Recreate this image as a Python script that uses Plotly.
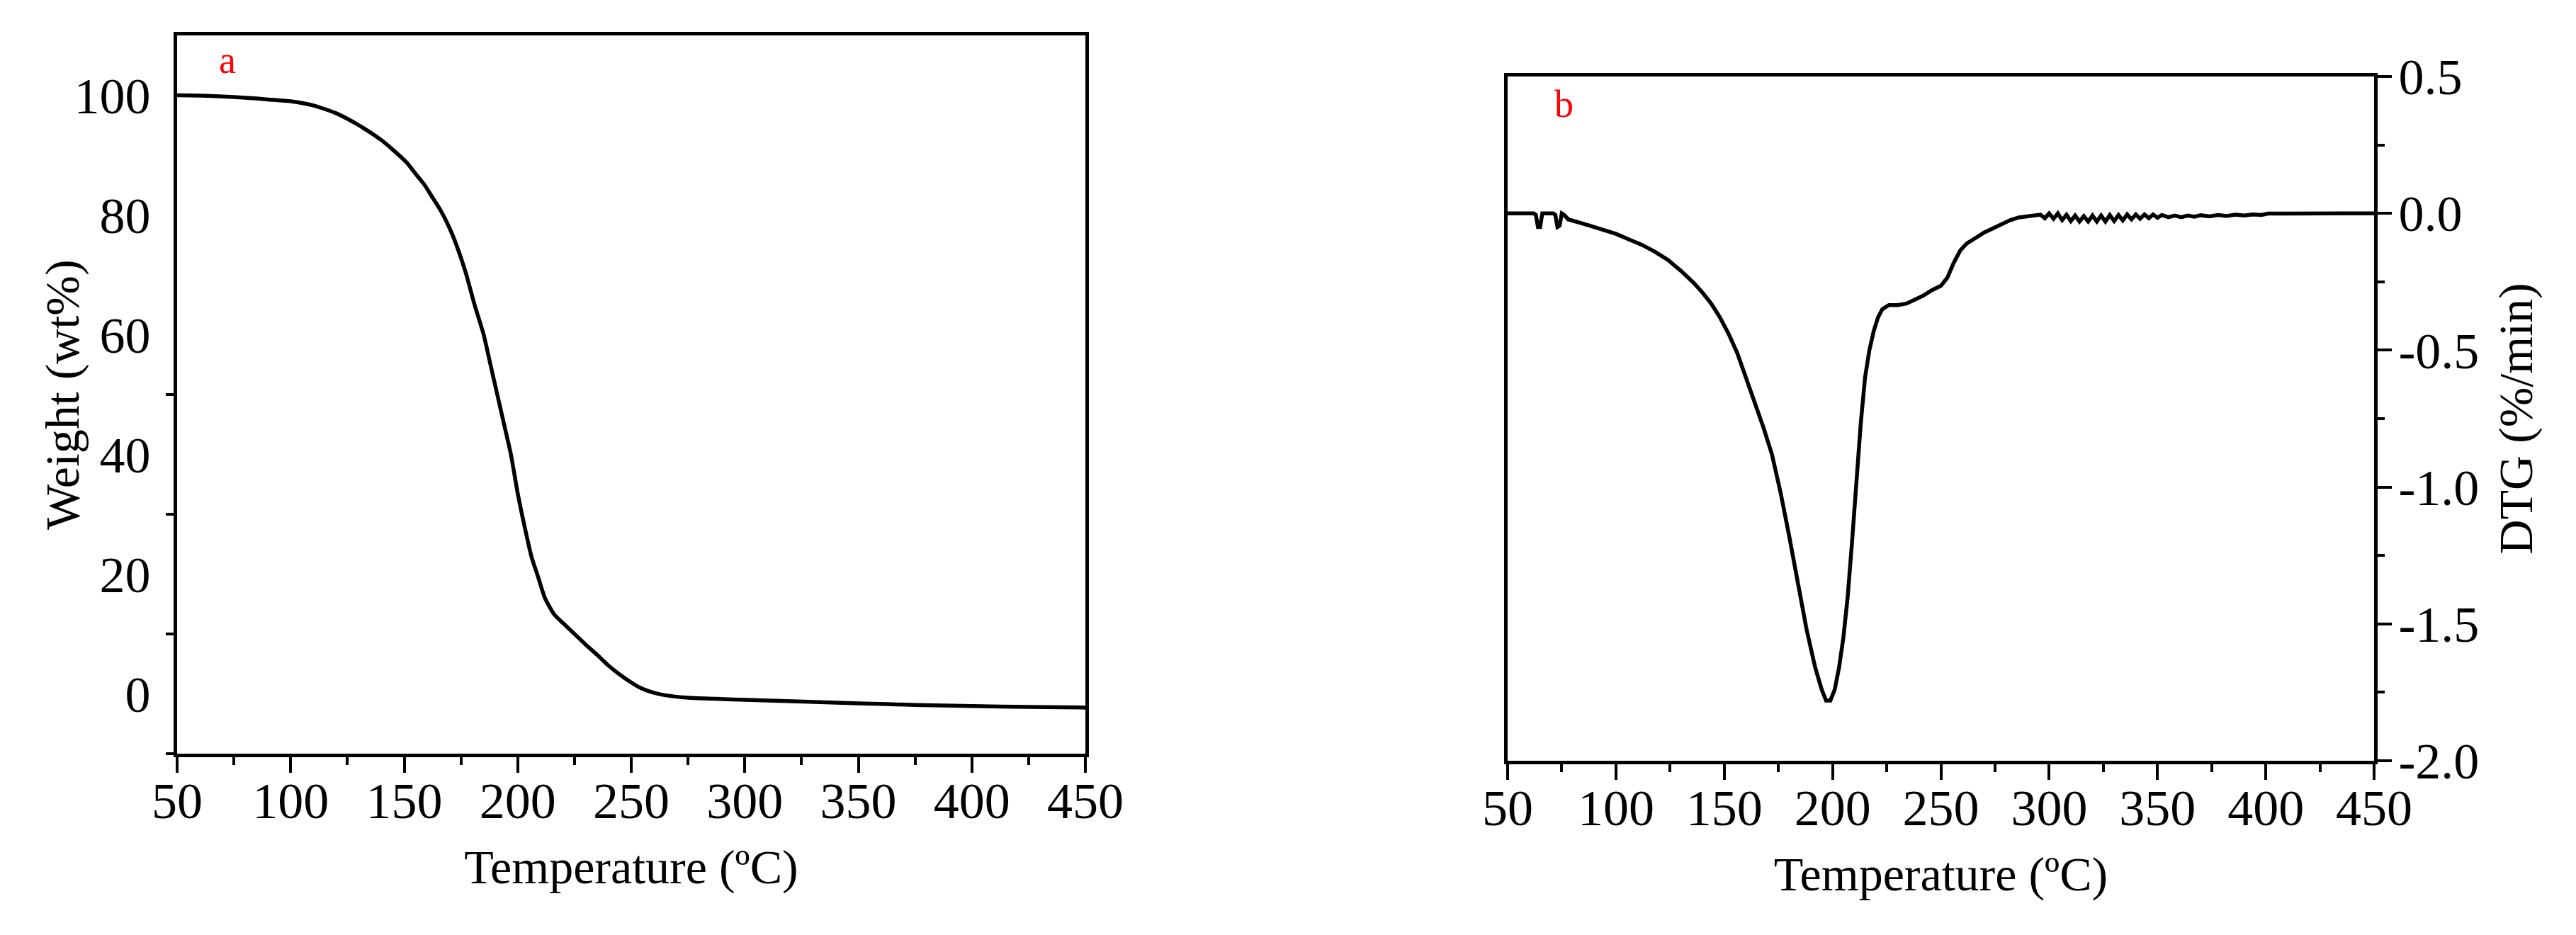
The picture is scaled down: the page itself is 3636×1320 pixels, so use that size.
"""TGA and DTG curves, two panels side by side."""

import plotly.graph_objects as go

# ---- data ----
tga_temp = [
    50, 60, 70, 80, 90, 100, 110, 120, 130, 140, 145, 151, 155, 159, 162, 166,
    170, 173, 177, 181, 185, 188, 191, 194, 197, 200, 203, 206, 209, 212, 216,
    220, 225, 230, 235, 240, 245, 250, 254, 258, 263, 268, 275, 284, 300, 326,
    350, 375, 400, 425, 450,
]
tga_weight = [
    100.0, 99.95, 99.8, 99.6, 99.3, 99.0, 98.3, 97.0, 95.0, 92.5, 90.9, 88.8,
    86.9, 85.0, 83.2, 80.8, 77.8, 75.0, 70.5, 65.0, 60.0, 55.0, 50.0, 45.0,
    40.0, 33.5, 28.0, 23.0, 19.5, 16.0, 13.3, 11.8, 10.0, 8.2, 6.5, 4.7, 3.2,
    1.9, 1.0, 0.4, -0.1, -0.4, -0.65, -0.8, -1.0, -1.3, -1.6, -1.85, -2.05,
    -2.2, -2.3,
]

dtg_temp = [
    50, 62, 63, 64, 65, 66, 71, 72, 73, 74, 75, 76, 78, 82, 88, 94, 100, 106,
    112, 118, 124, 130, 136, 140, 144, 148, 152, 156, 160, 164, 168, 172, 176,
    180, 184, 188, 192, 195, 197, 199, 201, 203, 205, 207, 209, 211, 213, 215,
    217, 219, 221, 223, 226, 230, 234, 238, 242, 246, 250, 253, 256, 259, 262,
    266, 270, 274, 278, 282, 286, 290, 294,
    296, 298, 300, 302, 304, 306, 308, 310, 312, 314, 316, 318, 320, 322, 324,
    326, 328, 330, 332, 334, 336, 338, 340, 342, 344, 346, 348, 350, 352, 355,
    358, 361, 364, 367, 370, 374, 378, 382, 386, 390, 394, 398, 401, 410, 420,
    430, 450,
]
dtg_rate = [
    0.0, 0.0, -0.005, -0.05, -0.05, 0.0, 0.0, -0.005, -0.05, -0.045, 0.0,
    -0.005, -0.022, -0.03, -0.045, -0.06, -0.075, -0.095, -0.115, -0.14, -0.17,
    -0.21, -0.255, -0.29, -0.33, -0.38, -0.44, -0.51, -0.6, -0.68, -0.78, -0.88,
    -1.02, -1.18, -1.35, -1.52, -1.66, -1.74, -1.78, -1.78, -1.74, -1.66, -1.55,
    -1.40, -1.20, -0.98, -0.77, -0.60, -0.50, -0.43, -0.38, -0.35, -0.335,
    -0.335, -0.33, -0.315, -0.30, -0.28, -0.265, -0.235, -0.18, -0.135, -0.11,
    -0.09, -0.07, -0.055, -0.038, -0.025, -0.015, -0.012, -0.008,
    -0.005, -0.018, 0.0, -0.02, 0.0, -0.025, -0.005, -0.028, -0.008, -0.03,
    -0.01, -0.03, -0.008, -0.03, -0.008, -0.03, -0.006, -0.028, -0.006, -0.026,
    -0.004, -0.022, -0.004, -0.02, -0.004, -0.018, -0.004, -0.016, -0.006,
    -0.014, -0.008, -0.014, -0.008, -0.012, -0.007, -0.011, -0.006, -0.01,
    -0.005, -0.008, -0.004, -0.006, -0.001, -0.001, 0.0, 0.0, 0.0,
]

temp_ticks = [50, 100, 150, 200, 250, 300, 350, 400, 450]
weight_ticks = [0, 20, 40, 60, 80, 100]
dtg_ticks = [-2.0, -1.5, -1.0, -0.5, 0.0, 0.5]
dtg_tick_text = ["-2.0", "-1.5", "-1.0", "-0.5", "0.0", "0.5"]

FONT = "Liberation Serif, Times New Roman, serif"
W, H = 3636, 1320
TICK_SIZE = 72
TITLE_SIZE = 68

# plot boxes in pixels (left, right, top, bottom)
LEFT_BOX = (242, 1524, 42, 1056)
RIGHT_BOX = (2120, 3343, 100, 1066)


def _domain_x(box):
    return [box[0] / W, box[1] / W]


def _domain_y(box):
    return [1 - box[3] / H, 1 - box[2] / H]


fig = go.Figure()
fig.add_trace(
    go.Scatter(
        x=tga_temp,
        y=tga_weight,
        mode="lines",
        line=dict(color="black", width=5.5, shape="spline", smoothing=0.6),
        xaxis="x",
        yaxis="y",
        showlegend=False,
    )
)
fig.add_trace(
    go.Scatter(
        x=dtg_temp,
        y=dtg_rate,
        mode="lines",
        line=dict(color="black", width=5.5),
        xaxis="x2",
        yaxis="y2",
        showlegend=False,
    )
)

axis_base = dict(
    showline=True,
    linecolor="black",
    linewidth=5,
    mirror=True,
    showgrid=False,
    zeroline=False,
    automargin=False,
    tickcolor="black",
    tickwidth=4,
    tickfont=dict(family=FONT, size=TICK_SIZE, color="black"),
)

temp_axis = dict(
    axis_base,
    range=[50, 450],
    tickmode="array",
    tickvals=temp_ticks,
    ticks="outside",
    ticklen=22,
    ticklabelstandoff=-22,
    minor=dict(ticks="outside", ticklen=11, tickwidth=4, tickcolor="black",
               tickmode="linear", tick0=75, dtick=50),
    title=dict(text="Temperature (ºC)", font=dict(family=FONT, size=TITLE_SIZE),
               standoff=30),
)

fig.update_layout(
    width=W,
    height=H,
    margin=dict(l=0, r=0, t=0, b=0),
    paper_bgcolor="white",
    plot_bgcolor="white",
    font=dict(family=FONT, color="black"),
    xaxis=dict(temp_axis, domain=_domain_x(LEFT_BOX), anchor="y"),
    yaxis=dict(
        axis_base,
        domain=_domain_y(LEFT_BOX),
        anchor="x",
        range=[-10, 110],
        tickmode="array",
        tickvals=weight_ticks,
        ticks="",
        ticklabelstandoff=18,
        minor=dict(ticks="outside", ticklen=11, tickwidth=4, tickcolor="black",
                   tickmode="array", tickvals=[-10, 10, 30, 50]),
    ),
    xaxis2=dict(temp_axis, domain=_domain_x(RIGHT_BOX), anchor="y2"),
    yaxis2=dict(
        axis_base,
        domain=_domain_y(RIGHT_BOX),
        anchor="x2",
        side="right",
        range=[-2, 0.5],
        tickmode="array",
        tickvals=dtg_ticks,
        ticktext=dtg_tick_text,
        ticks="outside",
        ticklen=20,
        ticklabelstandoff=-5,
        minor=dict(ticks="outside", ticklen=10, tickwidth=4, tickcolor="black",
                   tickmode="array", tickvals=[-1.75, -1.25, -0.75, -0.25, 0.25]),
        title=dict(text="DTG (%/min)", font=dict(family=FONT, size=TITLE_SIZE),
                   standoff=30),
    ),
    annotations=[
        # left y title sits closer to its tick labels than a standoff allows
        dict(x=80 / W, y=sum(_domain_y(LEFT_BOX)) / 2, xref="paper", yref="paper",
             xanchor="center", yanchor="middle",
             text="Weight (wt%)", textangle=-90, showarrow=False,
             font=dict(family=FONT, size=TITLE_SIZE, color="black")),
        dict(x=72, y=105.8, xref="x", yref="y", text="a", showarrow=False,
             font=dict(family=FONT, size=54, color="red")),
        dict(x=76, y=0.40, xref="x2", yref="y2", text="b", showarrow=False,
             font=dict(family=FONT, size=54, color="red")),
    ],
)

fig.write_html("out.html")
